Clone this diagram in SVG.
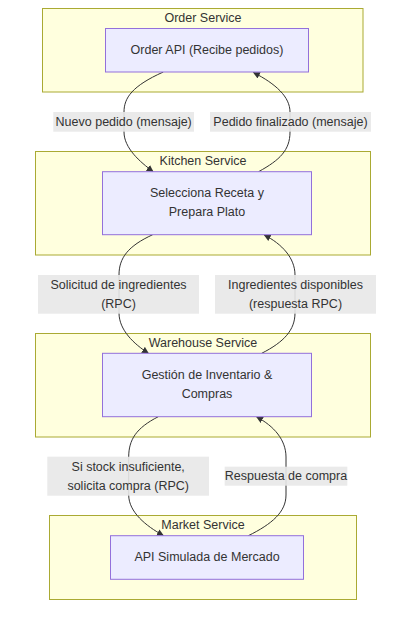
<svg xmlns="http://www.w3.org/2000/svg" width="407" height="629" viewBox="0 0 407 629">
<style>
.cluster{fill:#ffffde;stroke:#aaaa33;stroke-width:1}
.node{fill:#ececff;stroke:#9370db;stroke-width:1}
.t{font-family:"Liberation Sans",Arial,sans-serif;font-size:12.5px;fill:#333;text-anchor:middle;dominant-baseline:central}
.lbl{fill:#e8e8e8;opacity:0.9}
.edge{fill:none;stroke:#333;stroke-width:1}
</style>
<defs>
<marker id="arr" viewBox="0 0 10 10" refX="9" refY="5" markerWidth="7" markerHeight="7" markerUnits="userSpaceOnUse" orient="auto">
<path d="M0,0 L10,5 L0,10 z" fill="#333"/>
</marker>
</defs>
<rect width="407" height="629" fill="#ffffff"/>
<g id="order-service">
<rect class="cluster" x="42.5" y="8.5" width="320.5" height="83.5"/>
<text class="t" x="203" y="17.5">Order Service</text>
</g>
<g id="kitchen-service">
<rect class="cluster" x="35.5" y="151.5" width="335" height="103.5"/>
<text class="t" x="203" y="160.7">Kitchen Service</text>
</g>
<g id="warehouse-service">
<rect class="cluster" x="35.5" y="333.5" width="335" height="103.5"/>
<text class="t" x="203" y="342.7">Warehouse Service</text>
</g>
<g id="market-service">
<rect class="cluster" x="49.5" y="515.5" width="307" height="84"/>
<text class="t" x="203" y="525">Market Service</text>
</g>
<g id="connectors">
<path class="edge" d="M163.3,72 C132,86 124,98 124,112 L124,132 C124,148 140,162 153,171.5" marker-end="url(#arr)"/>
<path class="edge" d="M258.5,171.7 C280,160 290,150 290,132 L290,112 C290,97 276,84 253.5,72.5" marker-end="url(#arr)"/>
<path class="edge" d="M152.7,234.7 C128,246 119,258 119,275 L119,313 C119,330 134,344 148.3,353.2" marker-end="url(#arr)"/>
<path class="edge" d="M261.7,353.3 C284,342 295,330 295,313 L295,275 C295,258 282,244 264.3,235" marker-end="url(#arr)"/>
<path class="edge" d="M158.3,416.7 C136,428 128.7,440 128.7,457 L128.7,495 C128.7,512 146,526 163.3,535.5" marker-end="url(#arr)"/>
<path class="edge" d="M248.3,535.7 C272,524 286,512 286,495 L286,457 C286,440 274,426 256.7,417" marker-end="url(#arr)"/>
<rect class="lbl" x="53.3" y="112" width="140.7" height="19.7"/>
<text class="t" x="123.7" y="121.8">Nuevo pedido (mensaje)</text>
<rect class="lbl" x="210" y="112" width="161" height="19.7"/>
<text class="t" x="290.5" y="121.8">Pedido finalizado (mensaje)</text>
<rect class="lbl" x="38" y="275" width="161" height="38.7"/>
<text class="t" x="118.5" y="285">Solicitud de ingredientes</text>
<text class="t" x="118.5" y="304">(RPC)</text>
<rect class="lbl" x="215" y="275" width="161" height="38.7"/>
<text class="t" x="295.5" y="285">Ingredientes disponibles</text>
<text class="t" x="295.5" y="304">(respuesta RPC)</text>
<rect class="lbl" x="47.3" y="456.7" width="161.7" height="39"/>
<text class="t" x="128.2" y="466.7">Si stock insuficiente,</text>
<text class="t" x="128.2" y="485.7">solicita compra (RPC)</text>
<rect class="lbl" x="224.7" y="466.7" width="122.6" height="19"/>
<text class="t" x="286" y="476">Respuesta de compra</text>
</g>
<g id="order-api">
<rect class="node" x="105.5" y="28.5" width="203" height="43.5"/>
<text class="t" x="207" y="50">Order API (Recibe pedidos)</text>
</g>
<g id="kitchen">
<rect class="node" x="102.5" y="171.7" width="209" height="63"/>
<text class="t" x="207" y="193.3">Selecciona Receta y</text>
<text class="t" x="207" y="212.3">Prepara Plato</text>
</g>
<g id="warehouse">
<rect class="node" x="102.5" y="353.3" width="209" height="63.4"/>
<text class="t" x="207" y="375">Gestión de Inventario &amp;</text>
<text class="t" x="207" y="394">Compras</text>
</g>
<g id="market">
<rect class="node" x="110.5" y="535.7" width="193" height="43.6"/>
<text class="t" x="207" y="557.3">API Simulada de Mercado</text>
</g>
</svg>
